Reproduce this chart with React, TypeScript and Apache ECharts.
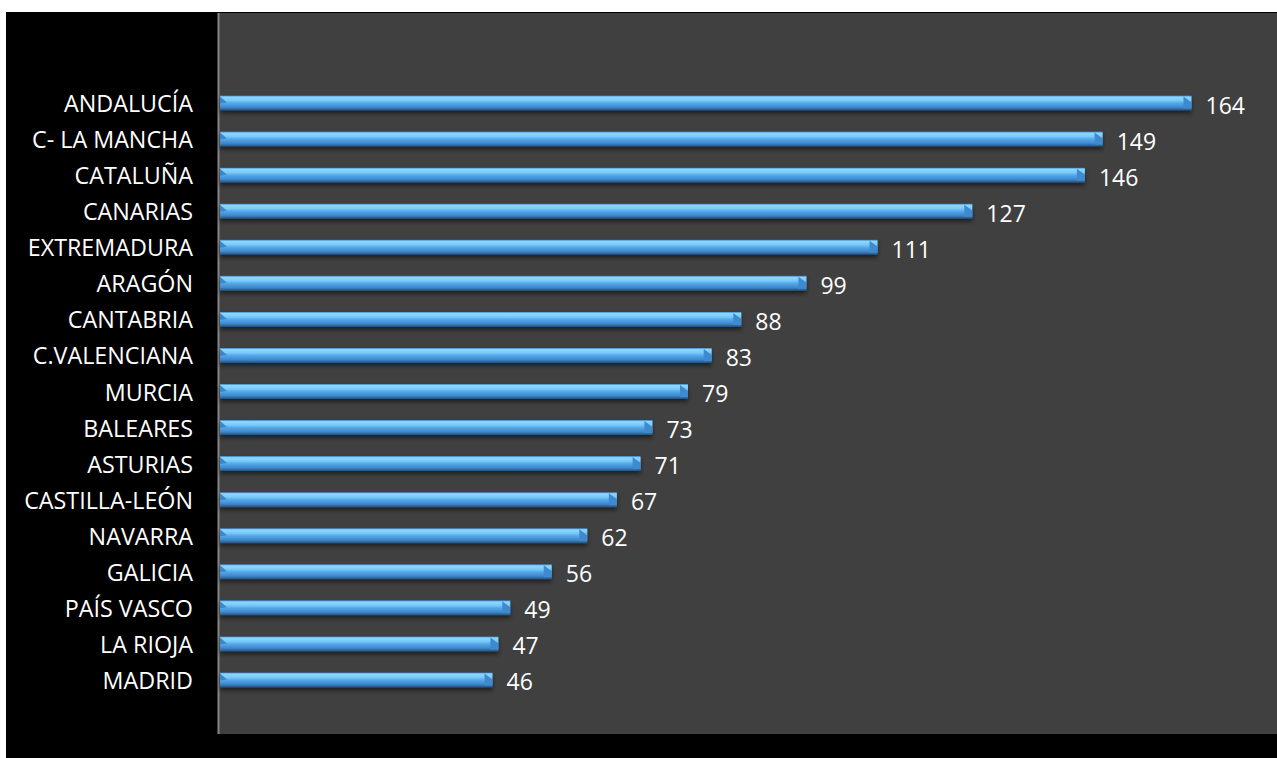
import React, { useEffect, useRef } from "react";
import * as echarts from "echarts";

const categories = [
  "ANDALUCÍA",
  "C- LA MANCHA",
  "CATALUÑA",
  "CANARIAS",
  "EXTREMADURA",
  "ARAGÓN",
  "CANTABRIA",
  "C.VALENCIANA",
  "MURCIA",
  "BALEARES",
  "ASTURIAS",
  "CASTILLA-LEÓN",
  "NAVARRA",
  "GALICIA",
  "PAÍS VASCO",
  "LA RIOJA",
  "MADRID",
];

const values = [164, 149, 146, 127, 111, 99, 88, 83, 79, 73, 71, 67, 62, 56, 49, 47, 46];

const W = 1277;
const H = 758;
const FONT = '"Open Sans", "Noto Sans", sans-serif';

export default function App() {
  const ref = useRef<HTMLDivElement>(null);

  useEffect(() => {
    if (!ref.current) return;
    const chart = echarts.init(ref.current, null, { renderer: "svg" });

    const barData = values.map((v, i) => [v, i]);

    const option: any = {
      animation: false,
      backgroundColor: "#ffffff",
      graphic: [
        { type: "rect", z: -10, silent: true, shape: { x: 6, y: 12, width: W - 6, height: H - 12 }, style: { fill: "#000000" } },
        { type: "rect", z: -9, silent: true, shape: { x: 218, y: 13, width: W - 218, height: 721 }, style: { fill: "#404040" } },
        { type: "line", z: -8, silent: true, shape: { x1: 218.5, y1: 13, x2: 218.5, y2: 734 }, style: { stroke: "#858585", lineWidth: 2 } },
      ],
      grid: { left: 220, top: 85, height: 613, width: 1042.6, containLabel: false },
      xAxis: {
        type: "value",
        min: 0,
        max: 176,
        show: false,
      },
      yAxis: {
        type: "category",
        data: categories,
        inverse: true,
        axisLine: { show: false },
        axisTick: { show: false },
        splitLine: { show: false },
        axisLabel: {
          color: "#ffffff",
          fontFamily: FONT,
          fontSize: 23.3,
          margin: 27,
        },
      },
      series: [
        {
          type: "custom",
          encode: { x: 0, y: 1 },
          data: barData,
          renderItem: (params: any, api: any) => {
            const v = api.value(0);
            const idx = api.value(1);
            const s = api.coord([0, idx]);
            const e = api.coord([v, idx]);
            const h = 15;
            const x0 = s[0];
            const x1 = e[0];
            const top = s[1] - h / 2;
            const bottom = top + h;
            const grad = {
              type: "linear",
              x: 0,
              y: 0,
              x2: 0,
              y2: 1,
              colorStops: [
                { offset: 0, color: "#3a7dc0" },
                { offset: 0.1, color: "#8ed8ff" },
                { offset: 0.33, color: "#78caf9" },
                { offset: 0.5, color: "#55a9e9" },
                { offset: 0.78, color: "#3f88cd" },
                { offset: 0.9, color: "#2f6aa3" },
                { offset: 1, color: "#24507a" },
              ],
            };
            return {
              type: "group",
              children: [
                {
                  type: "rect",
                  shape: { x: x0, y: top, width: x1 - x0, height: h },
                  style: {
                    fill: grad,
                    shadowBlur: 4,
                    shadowOffsetY: 3,
                    shadowColor: "rgba(0,0,0,0.5)",
                  },
                },
                {
                  type: "polygon",
                  shape: {
                    points: [
                      [x1 - 8, top + 1],
                      [x1, top + 7],
                      [x1, bottom - 2],
                      [x1 - 8, bottom - 2],
                    ],
                  },
                  style: { fill: "#3f89cf" },
                },
                {
                  type: "polygon",
                  shape: {
                    points: [
                      [x0, top + 1],
                      [x0 + 7, top + 7],
                      [x0, top + 8],
                    ],
                  },
                  style: { fill: "#3f86c8" },
                },
                {
                  type: "text",
                  x: x1 + 14,
                  y: s[1] + 1.5,
                  style: {
                    text: String(v),
                    fill: "#ffffff",
                    font: `23px ${FONT}`,
                    verticalAlign: "middle",
                    align: "left",
                  },
                },
              ],
            };
          },
        },
      ],
    };

    chart.setOption(option);
    return () => chart.dispose();
  }, []);

  return (
    <div
      ref={ref}
      style={{ position: "fixed", left: 0, top: 0, width: W, height: H }}
    />
  );
}
